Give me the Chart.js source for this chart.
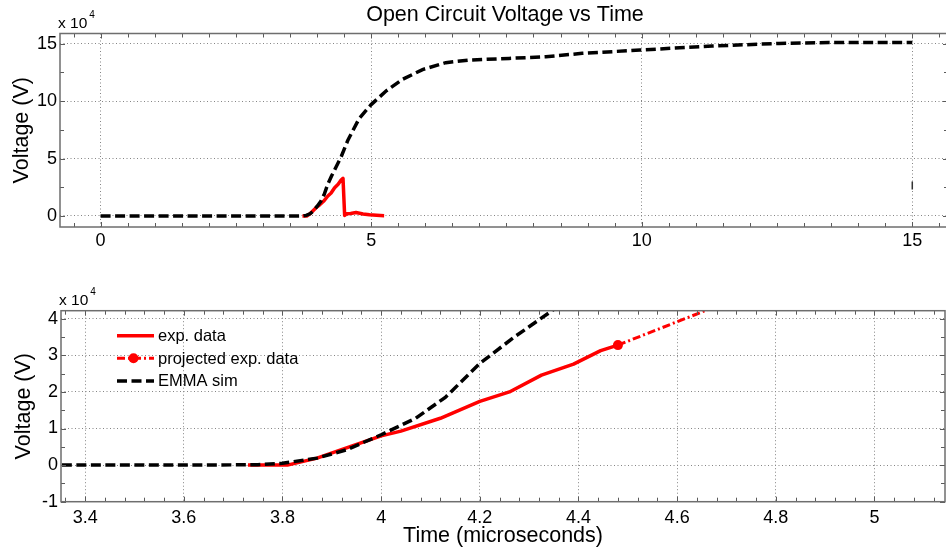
<!DOCTYPE html>
<html><head><meta charset="utf-8">
<script src="https://cdn.jsdelivr.net/npm/chart.js@4/dist/chart.umd.min.js"></script>
<style>
html,body{margin:0;padding:0;background:#fff;overflow:hidden;width:946px;height:550px;position:relative}
canvas{position:absolute;left:0}
#c1{top:0}
#c2{top:262px}
</style></head><body>
<canvas id="c1" width="950" height="262"></canvas>
<canvas id="c2" width="950" height="288"></canvas>
<script>
const FONT = '"Liberation Sans", Arial, Helvetica, sans-serif';

// Time in microseconds, voltage in units of 10^4 V
const simTime = [0, 1, 2, 3, 3.6, 3.75, 3.8, 3.87, 3.93, 4.0, 4.07, 4.13, 4.2, 4.27, 4.34, 4.45, 4.57, 4.78, 5.0, 5.28, 5.58, 5.95, 6.38, 6.81, 7.55, 8.23, 8.9, 9.97, 11.3, 12.54, 13.46, 15.0];
const simVolt = [0, 0, 0, 0, 0, 0.01, 0.05, 0.19, 0.42, 0.83, 1.28, 1.85, 2.78, 3.5, 4.16, 5.2, 6.6, 8.5, 9.7, 10.9, 11.9, 12.75, 13.35, 13.58, 13.72, 13.87, 14.16, 14.45, 14.8, 15.03, 15.1, 15.1];

const expTime = [3.73, 3.81, 3.87, 3.94, 4.0, 4.04, 4.12, 4.2, 4.26, 4.325, 4.39, 4.445, 4.48, 4.51, 4.55, 4.62, 4.72, 4.85, 4.97, 5.1, 5.24];
const expVolt = [0, 0, 0.19, 0.52, 0.8, 0.93, 1.28, 1.74, 2.0, 2.46, 2.76, 3.13, 3.28, 0.05, 0.2, 0.22, 0.3, 0.18, 0.1, 0.06, 0.03];

const projTime = [4.48, 4.70];
const projVolt = [3.28, 4.45];

const glitchTime = [15, 15];
const glitchVolt = [2.3, 3.0];

const topXTicks = [0, 5, 10, 15];
const topXLabels = ['0', '5', '10', '15'];
const topYTicks = [0, 5, 10, 15];
const topYLabels = ['0', '5', '10', '15'];
const botXTicks = [3.4, 3.6, 3.8, 4, 4.2, 4.4, 4.6, 4.8, 5];
const botXLabels = ['3.4', '3.6', '3.8', '4', '4.2', '4.4', '4.6', '4.8', '5'];
const botYTicks = [-1, 0, 1, 2, 3, 4];
const botYLabels = ['-1', '0', '1', '2', '3', '4'];
const topXMinor = 0.5, topYMinor = 2.5, botXMinor = 0.04, botYMinor = 0.5;

const titleText = 'Open Circuit Voltage vs Time';
const yTitle = 'Voltage (V)';
const xTitle = 'Time (microseconds)';
const legendLabels = ['exp. data', 'projected exp. data', 'EMMA sim'];

const pts = (xs, ys) => xs.map((x, i) => ({x, y: ys[i]}));
const peakTime = projTime[0];
const expRise = pts(expTime, expVolt).filter(p => p.x <= peakTime + 1e-9);

const RED = '#ff0000';
const simStyle = {borderColor: '#000', borderWidth: 3.5, borderDash: [10, 4.5], pointRadius: 0, tension: 0, borderCapStyle: 'butt', fill: false};
const expStyle = {borderColor: RED, borderWidth: 3.5, pointRadius: 0, tension: 0, borderJoinStyle: 'round', fill: false};
const projStyle = {borderColor: RED, backgroundColor: RED, borderWidth: 3, borderDash: [8, 3, 2, 3], pointRadius: 5, pointBorderWidth: 0, pointBackgroundColor: RED, tension: 0, fill: false};

function xScale(min, max, ticks, labels, height, pad, title) {
  return {
    type: 'linear', position: 'bottom', min, max,
    afterBuildTicks: s => { s.ticks = ticks.map(v => ({value: v})); },
    afterFit: s => { s.height = height; },
    ticks: {autoSkip: false, maxRotation: 0, padding: pad, color: '#000', font: {family: FONT, size: 18}, callback: (v, i) => labels[i]},
    grid: {color: '#858585', lineWidth: 1, drawTicks: false},
    border: {display: false, dash: [1, 2.5]},
    title: title ? {display: true, text: title, color: '#000', font: {family: FONT, size: 21.5}, padding: {top: 1, bottom: 1}} : {display: false}
  };
}
function yScale(min, max, ticks, labels, width, pad, titlePad) {
  return {
    type: 'linear', position: 'left', min, max,
    afterBuildTicks: s => { s.ticks = ticks.map(v => ({value: v})); },
    afterFit: s => { s.width = width; },
    ticks: {autoSkip: false, padding: pad, color: '#000', font: {family: FONT, size: 18}, callback: (v, i) => labels[i]},
    grid: {color: '#858585', lineWidth: 1, drawTicks: false},
    border: {display: false, dash: [1, 2.5]},
    title: {display: true, text: yTitle, color: '#000', font: {family: FONT, size: 21.5}, padding: {top: titlePad, bottom: 0}}
  };
}

const matlabAxes = {
  id: 'matlabAxes',
  afterDatasetsDraw(chart, args, o) {
    const {ctx, chartArea: a, scales: {x, y}} = chart;
    ctx.save();
    ctx.setLineDash([]);
    // tick marks (inward, all four sides)
    ctx.strokeStyle = '#5a5a5a';
    ctx.lineWidth = 1;
    const marks = (scale, step, majors) => {
      const out = [];
      const k0 = Math.ceil(scale.min / step - 1e-9), k1 = Math.floor(scale.max / step + 1e-9);
      for (let k = k0; k <= k1; k++) {
        const v = k * step;
        const major = majors.some(m => Math.abs(m - v) < step / 10);
        out.push({p: scale.getPixelForValue(v), len: major ? 5 : 4});
      }
      return out;
    };
    ctx.beginPath();
    marks(x, o.xMinor, o.xMajor).forEach(m => {
      const px = Math.round(m.p) + 0.5;
      ctx.moveTo(px, a.bottom); ctx.lineTo(px, a.bottom - m.len);
      ctx.moveTo(px, a.top); ctx.lineTo(px, a.top + m.len);
    });
    marks(y, o.yMinor, o.yMajor).forEach(m => {
      const py = Math.round(m.p) + 0.5;
      ctx.moveTo(a.left, py); ctx.lineTo(a.left + m.len, py);
      ctx.moveTo(a.right, py); ctx.lineTo(a.right - m.len, py);
    });
    ctx.stroke();
    // frame
    ctx.strokeStyle = '#6e6e6e';
    ctx.lineWidth = 1.5;
    ctx.strokeRect(a.left, a.top, a.right - a.left, a.bottom - a.top);
    // exponent label
    ctx.fillStyle = '#000';
    ctx.textBaseline = 'alphabetic';
    ctx.textAlign = 'left';
    ctx.font = '15.5px ' + FONT;
    ctx.fillText('x 10', a.left - 2, a.top - 5.5);
    const w = ctx.measureText('x 10').width;
    ctx.font = '10px ' + FONT;
    ctx.fillText('4', a.left + w, a.top - 16);
    // title
    if (o.title) {
      ctx.font = '21.5px ' + FONT;
      ctx.textAlign = 'center';
      ctx.fillText(o.title, 505, 21);
    }
    // legend
    if (o.legend) {
      const L = o.legend;
      chart.data.datasets.filter(d => d.legendIndex !== undefined)
        .sort((p, q) => p.legendIndex - q.legendIndex)
        .forEach((d, i) => {
          const yy = L.y + i * L.dy;
          ctx.save();
          ctx.strokeStyle = d.borderColor;
          ctx.lineWidth = d.borderWidth;
          ctx.setLineDash(d.borderDash || []);
          ctx.beginPath();
          ctx.moveTo(L.x, yy); ctx.lineTo(L.x + L.len, yy);
          ctx.stroke();
          if (d.pointRadius) {
            ctx.setLineDash([]);
            ctx.fillStyle = d.pointBackgroundColor;
            ctx.beginPath();
            ctx.arc(L.x + L.len / 2 - 2, yy, d.pointRadius, 0, Math.PI * 2);
            ctx.fill();
          }
          ctx.restore();
          ctx.fillStyle = '#000';
          ctx.font = '16.5px ' + FONT;
          ctx.textAlign = 'left';
          ctx.textBaseline = 'middle';
          ctx.fillText(d.label, L.x + L.len + 4, yy + 1);
        });
    }
    ctx.restore();
  }
};

Chart.defaults.font.family = FONT;

new Chart(document.getElementById('c1'), {
  type: 'line',
  data: {datasets: [
    Object.assign({label: legendLabels[2], data: pts(simTime, simVolt)}, simStyle),
    Object.assign({label: legendLabels[0], data: pts(expTime, expVolt)}, expStyle),
    {label: 'glitch', data: pts(glitchTime, glitchVolt), borderColor: '#333', borderWidth: 1.5, pointRadius: 0}
  ]},
  options: {
    responsive: false, animation: false, devicePixelRatio: 1,
    layout: {padding: {top: 33.5, right: 2, left: 0, bottom: 0}},
    scales: {
      x: xScale(-0.75, 15.66, topXTicks, topXLabels, 35, 3, null),
      y: yScale(-0.96, 15.89, topYTicks, topYLabels, 60, 3, 9.5)
    },
    plugins: {
      legend: {display: false}, tooltip: {enabled: false}, title: {display: false},
      matlabAxes: {xMinor: topXMinor, yMinor: topYMinor, xMajor: topXTicks, yMajor: topYTicks, title: titleText}
    }
  },
  plugins: [matlabAxes]
});

new Chart(document.getElementById('c2'), {
  type: 'line',
  data: {datasets: [
    Object.assign({label: legendLabels[2], legendIndex: 2, data: pts(simTime, simVolt)}, simStyle),
    Object.assign({label: legendLabels[0], legendIndex: 0, data: expRise}, expStyle),
    Object.assign({label: legendLabels[1], legendIndex: 1, data: pts(projTime, projVolt)}, projStyle)
  ]},
  options: {
    responsive: false, animation: false, devicePixelRatio: 1,
    layout: {padding: {top: 48.7, right: 2, left: 0, bottom: 0}},
    scales: {
      x: xScale(3.351, 5.143, botXTicks, botXLabels, 48.3, 6, xTitle),
      y: yScale(-1.0, 4.22, botYTicks, botYLabels, 61, 3, 11)
    },
    plugins: {
      legend: {display: false}, tooltip: {enabled: false}, title: {display: false},
      matlabAxes: {xMinor: botXMinor, yMinor: botYMinor, xMajor: botXTicks, yMajor: botYTicks,
        legend: {x: 117, y: 73.7, dy: 22.6, len: 37}}
    }
  },
  plugins: [matlabAxes]
});
</script>
</body></html>
